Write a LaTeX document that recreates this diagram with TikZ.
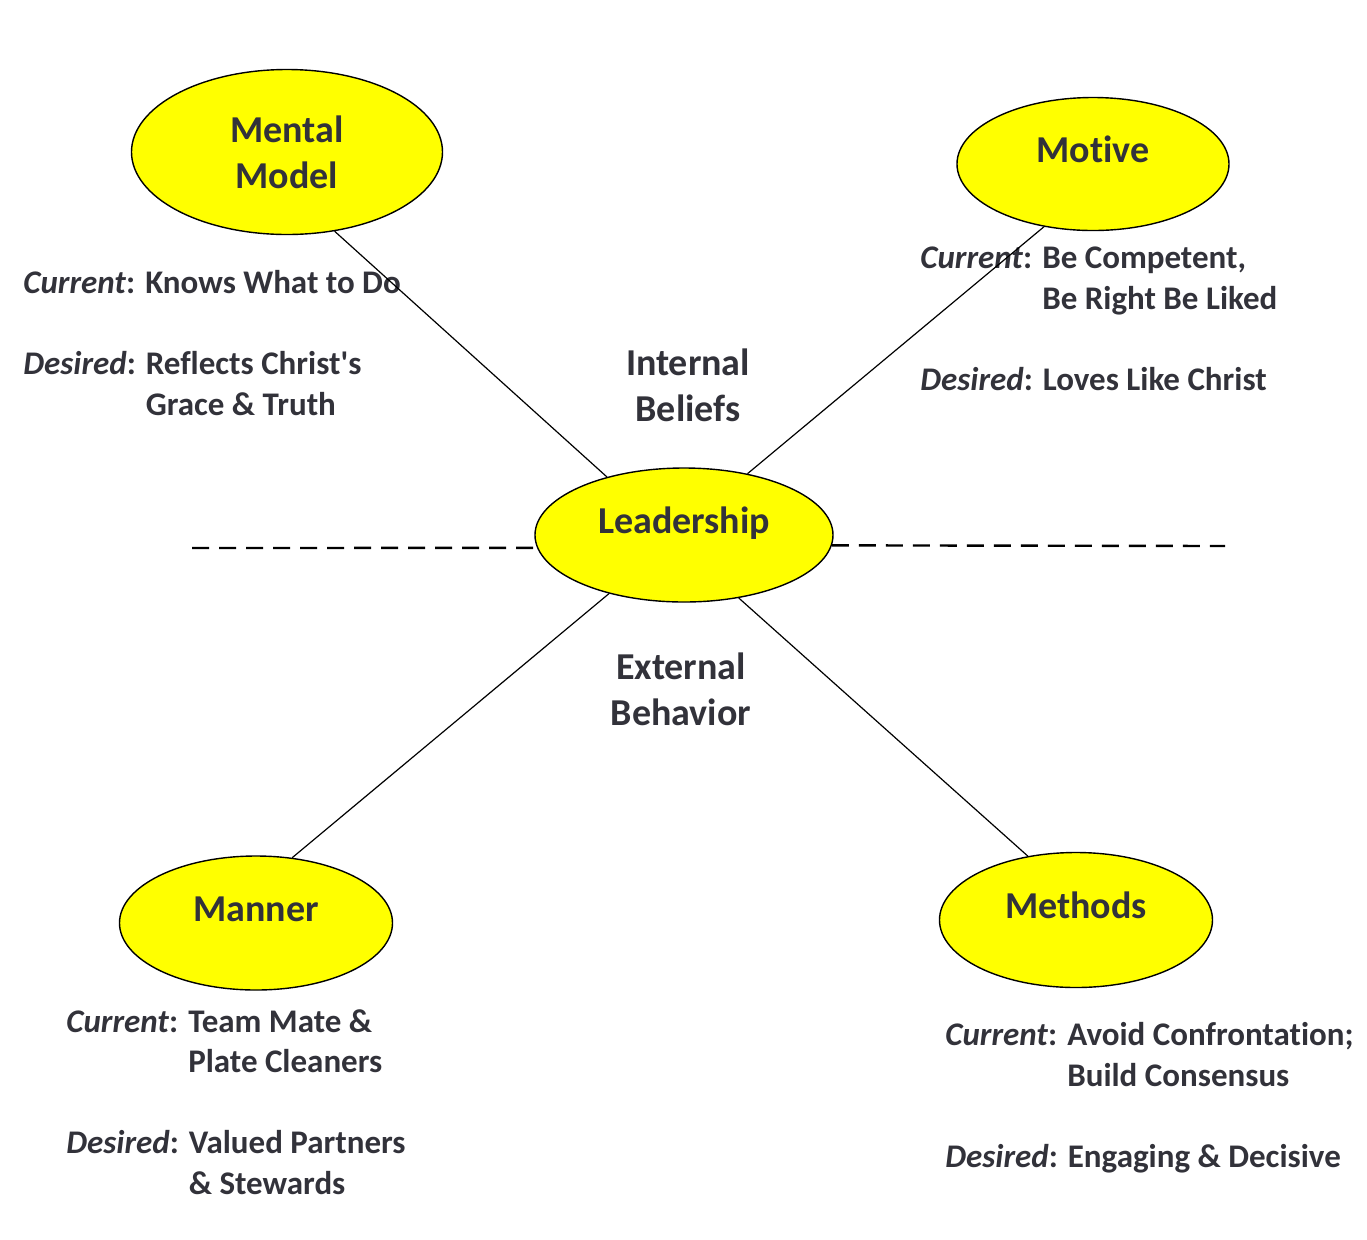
\documentclass[tikz,border=0pt]{standalone}
\usepackage{fontspec}
\setmainfont{Carlito}[Ligatures=NoCommon]
\usepackage{tikz}
\usetikzlibrary{shapes.geometric, positioning}
\definecolor{ink}{RGB}{50,50,58}
\definecolor{ovalfill}{RGB}{255,255,0}
\newcommand{\curtxt}{\textit{Current}: }
\newcommand{\destxt}{\textit{Desired}: }
\newcommand{\curgap}{\phantom{\textit{Current}: }}
\newcommand{\desgap}{\phantom{\textit{Desired}: }}

\begin{document}
\begin{tikzpicture}[
    x=0.5pt, y=-0.5pt,
    oval/.style={ellipse, draw=black, line width=0.7pt, fill=ovalfill, text=ink, align=center, inner sep=0pt,
        font=\fontsize{19}{23}\selectfont\bfseries, text height=13pt, text depth=15pt},
    desc/.style={anchor=base west, align=left, inner sep=0pt, text=ink, font=\fontsize{16.5}{20.25}\selectfont\bfseries},
    side/.style={anchor=base, align=center, inner sep=0pt, text=ink, font=\fontsize{19}{23}\selectfont\bfseries},
    spoke/.style={draw=black, line width=0.6pt},
    divide/.style={draw=black, line width=1.2pt, dash pattern=on 8.5pt off 5pt}
]
\useasboundingbox (0,0) rectangle (1367,1239);

\node[oval, minimum width=155.5pt, minimum height=82.5pt, text height=, text depth=] (mental) at (287,152) {Mental\\Model};
\node[oval, minimum width=136pt, minimum height=66.5pt] (motive) at (1093,164) {Motive};
\node[oval, minimum width=149pt, minimum height=67pt] (lead) at (684,535) {Leadership};
\node[oval, minimum width=136.5pt, minimum height=67pt] (manner) at (256,923) {Manner};
\node[oval, minimum width=136.5pt, minimum height=67.5pt] (methods) at (1076,920) {Methods};

% anchor base = last line
\node[side] (internal) at (688,421) {Internal\\Beliefs};
\node[side] (external) at (681,725) {External\\Behavior};

\node[desc] (mentaltxt) at (23,415) {\curtxt Knows What to Do\\[20.25pt]
    \destxt Reflects Christ\textquotesingle s\\ \desgap Grace \& Truth};
\node[desc] (motivetxt) at (920,390) {\curtxt Be Competent,\\ \curgap Be Right Be Liked\\[20.25pt]
    \destxt Loves Like Christ};
\node[desc] (mannertxt) at (66,1194) {\curtxt Team Mate \&\\ \curgap Plate Cleaners\\[20.25pt]
    \destxt Valued Partners\\ \desgap \& Stewards};
\node[desc] (methodstxt) at (945,1167) {\curtxt Avoid Confrontation;\\ \curgap Build Consensus\\[20.25pt]
    \destxt Engaging \& Decisive};

\coordinate (divleft) at (192,548);
\coordinate (divright) at (1225,546);

\draw[spoke] (mental.-59) -- (lead.143.5);
\draw[spoke] (motive.-128.3) -- (lead.44.5);
\draw[spoke] (manner.61) -- (lead.-142.1);
\draw[spoke] (methods.127.3) -- (lead.-49.3);

\draw[divide] (divleft) -- (lead.185.1);
\draw[divide] (lead.-4.7) -- (divright);
\end{tikzpicture}
\end{document}
